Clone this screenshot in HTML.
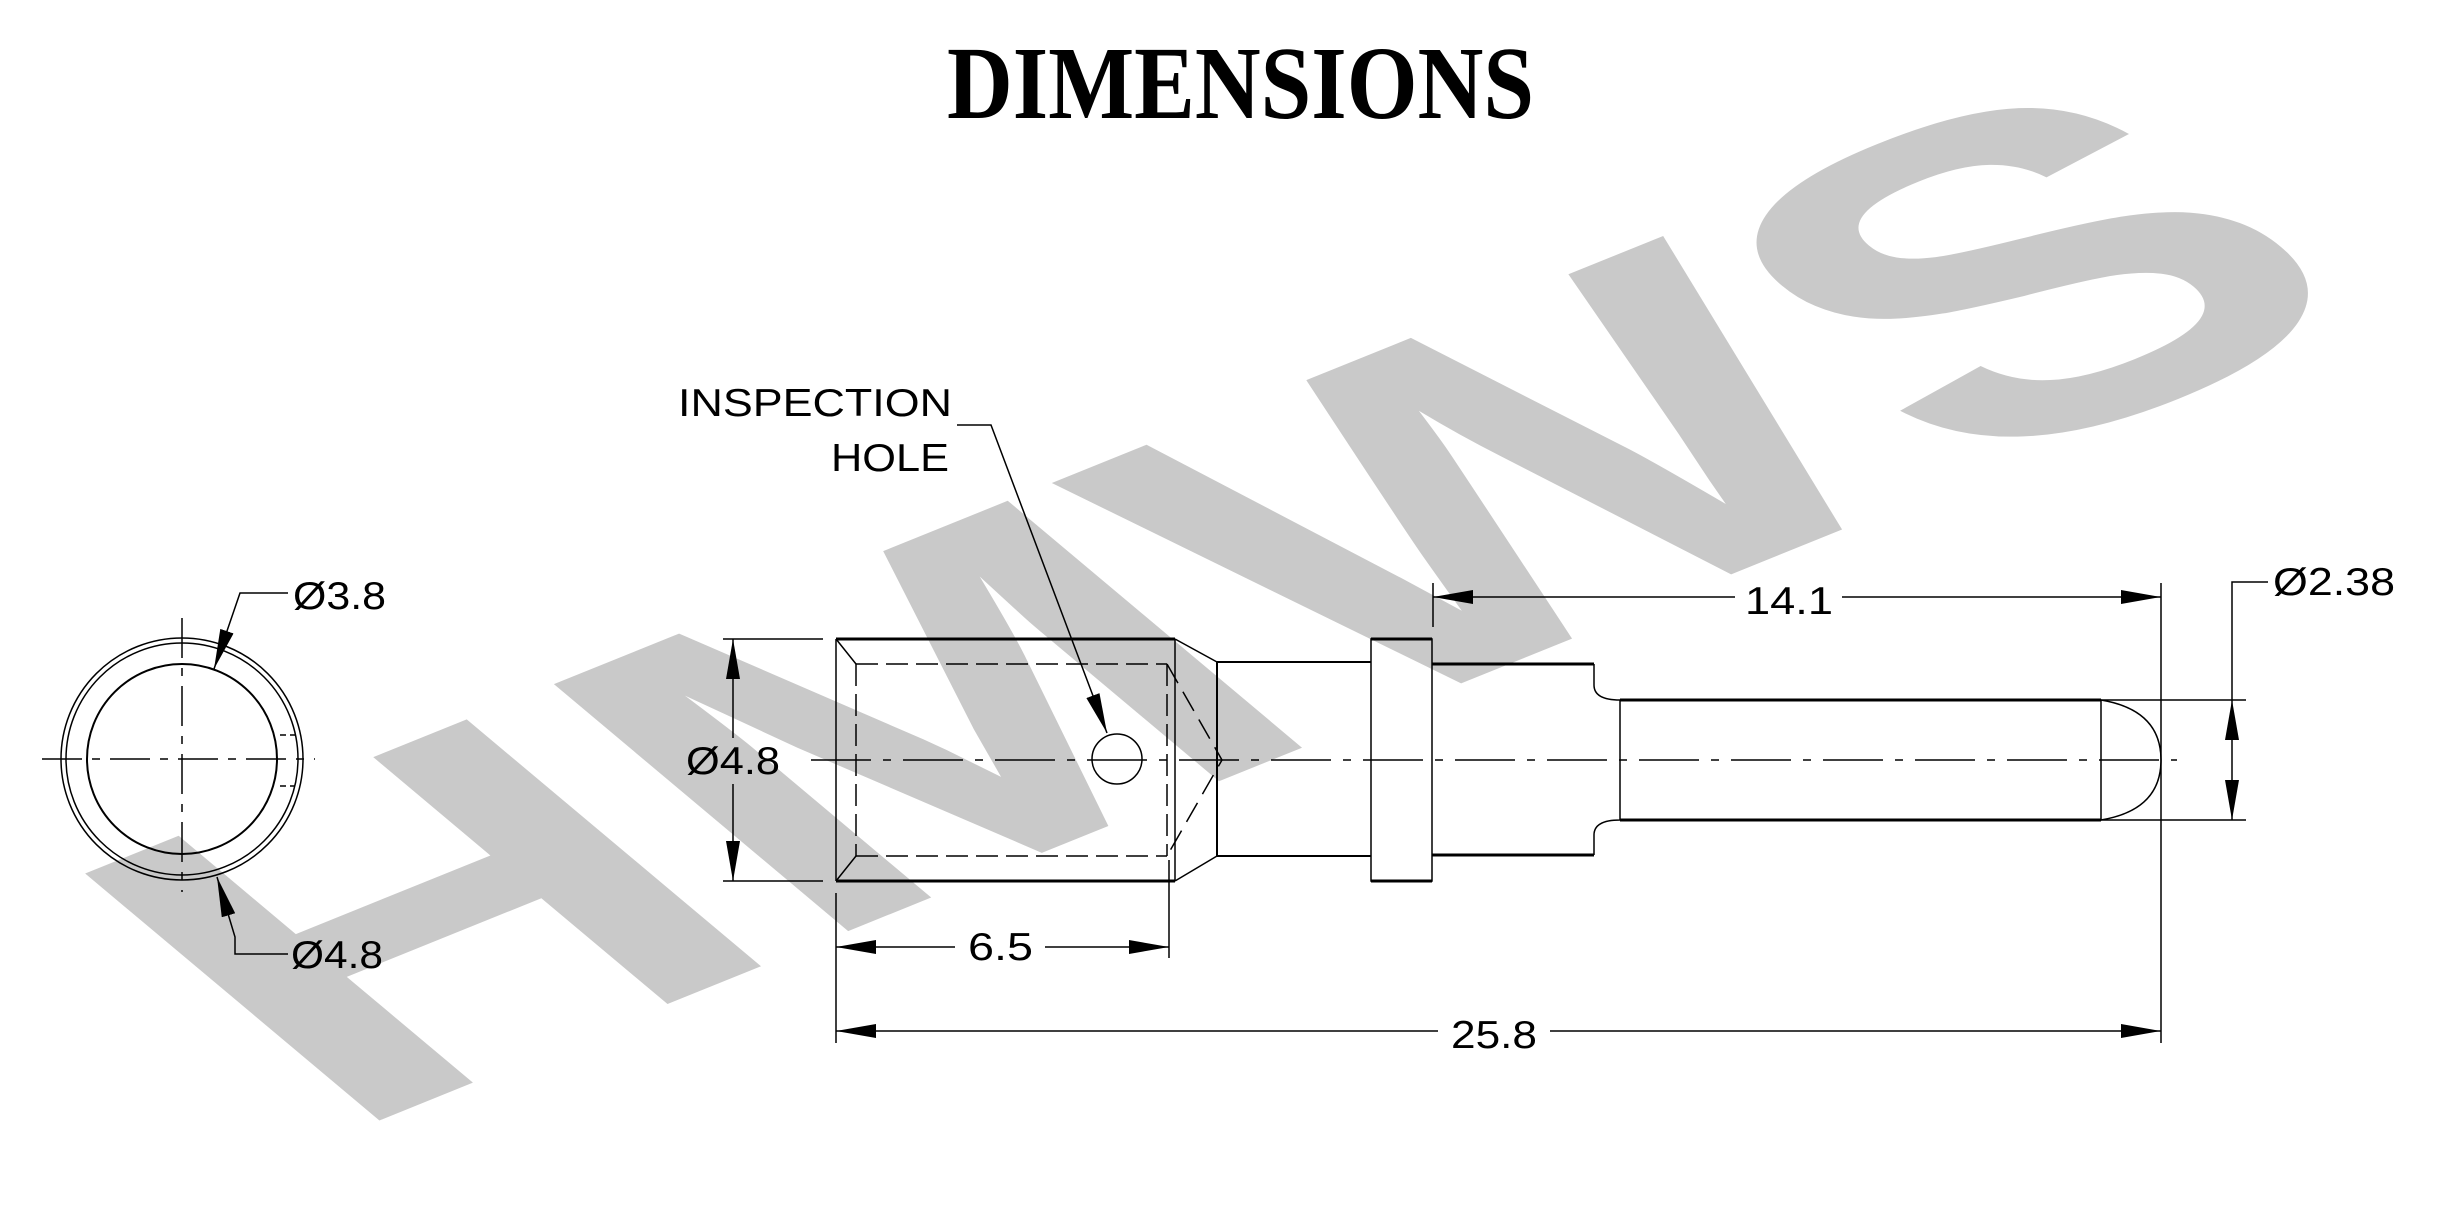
<!DOCTYPE html>
<html><head><meta charset="utf-8"><style>
html,body{margin:0;padding:0;background:#fff;}
svg{display:block;}
</style></head><body>
<svg width="2447" height="1209" viewBox="0 0 2447 1209" xmlns="http://www.w3.org/2000/svg">
<rect width="2447" height="1209" fill="#fff"/>
<!-- watermark -->
<g transform="translate(336,1138) rotate(-22) skewX(28) scale(1.42,1)">
<text x="0" y="0" font-family="Liberation Sans, sans-serif" font-weight="bold" font-size="493" fill="#c9c9c9">HMWS</text>
</g>
<!-- title -->
<text x="947" y="118" textLength="587" lengthAdjust="spacingAndGlyphs" font-family="Liberation Serif, serif" font-weight="bold" font-size="104" fill="#000">DIMENSIONS</text>

<defs>
<marker id="a" viewBox="0 0 40 14" refX="40" refY="7" markerWidth="40" markerHeight="14" markerUnits="userSpaceOnUse" orient="auto-start-reverse">
<path d="M0,0 L40,7 L0,14 Z" fill="#000"/></marker>
</defs>

<g stroke="#000" fill="none" stroke-width="1.5" font-family="Liberation Sans, sans-serif">
<!-- end view -->
<circle cx="182" cy="759" r="121"/>
<circle cx="182" cy="759" r="116"/>
<circle cx="182" cy="759" r="95" stroke-width="2"/>
<path d="M42,759 H315" stroke-dasharray="40,10,8,10"/>
<path d="M182,618 V892" stroke-dasharray="40,10,8,10"/>
<path d="M280,735 H295 M280,786 H295" stroke-dasharray="6,4"/>
<path d="M288,593 H240 L214,669" marker-end="url(#a)"/>
<path d="M288,954 H235 V937 L217,877" marker-end="url(#a)"/>

<!-- tube -->
<path d="M836,639 H1175 M836,881 H1175" stroke-width="3"/>
<path d="M836,639 V881 M1175,639 V881"/>
<path d="M856,664 H1167 M856,856 H1167 M856,664 V856 M1167,664 V856" stroke-dasharray="22,8"/>
<path d="M836,639 L856,664 M836,881 L856,856"/>
<path d="M1175,639 L1217,662 M1175,881 L1217,856"/>
<path d="M1167,664 L1222,760 L1167,856" stroke-dasharray="22,10"/>
<circle cx="1117" cy="759" r="25"/>
<!-- neck -->
<path d="M1217,662 H1371 M1217,856 H1371 M1217,662 V856" stroke-width="2"/>
<!-- flange -->
<rect x="1371" y="639" width="61" height="242"/>
<path d="M1371,639 H1432 M1371,881 H1432" stroke-width="3"/>
<!-- body -->
<path d="M1432,664 H1594 M1432,855 H1594" stroke-width="3"/>
<path d="M1594,664 V685 Q1594,700 1620,700 M1594,855 V835 Q1594,820 1620,820 M1620,700 V820"/>
<!-- pin -->
<path d="M1620,700 H2101 M1620,820 H2101" stroke-width="3"/>
<path d="M2101,700 V820 M2101,700 Q2161,710 2161,760 Q2161,810 2101,820"/>
<!-- centerline -->
<path d="M811,760 H2177" stroke-dasharray="60,12,8,12"/>

<!-- dims -->
<path d="M723,639 H823 M723,881 H823"/>
<path d="M733,738 V639" marker-end="url(#a)"/>
<path d="M733,784 V881" marker-end="url(#a)"/>
<path d="M836,893 V1043 M1169,860 V958 M1433,583 V627 M2161,583 V1043"/>
<path d="M955,947 H836" marker-end="url(#a)"/>
<path d="M1045,947 H1169" marker-end="url(#a)"/>
<path d="M1438,1031 H836" marker-end="url(#a)"/>
<path d="M1550,1031 H2161" marker-end="url(#a)"/>
<path d="M1735,597 H1433" marker-end="url(#a)"/>
<path d="M1842,597 H2161" marker-end="url(#a)"/>
<path d="M2101,700 H2246 M2101,820 H2246"/>
<path d="M2232,760 V700" marker-end="url(#a)"/>
<path d="M2232,760 V820" marker-end="url(#a)"/>
<path d="M2232,700 V582 H2268"/>
<!-- inspection leader -->
<path d="M957,425 H991 L1107,733" marker-end="url(#a)"/>
</g>

<g font-family="Liberation Sans, sans-serif" font-size="39" fill="#000">
<text x="678" y="416" textLength="274" lengthAdjust="spacingAndGlyphs">INSPECTION</text>
<text x="831" y="471" textLength="118" lengthAdjust="spacingAndGlyphs">HOLE</text>
<text x="293" y="609" textLength="93" lengthAdjust="spacingAndGlyphs">Ø3.8</text>
<text x="291" y="968" textLength="92" lengthAdjust="spacingAndGlyphs">Ø4.8</text>
<text x="686" y="774" textLength="94" lengthAdjust="spacingAndGlyphs">Ø4.8</text>
<text x="968" y="960" textLength="65" lengthAdjust="spacingAndGlyphs">6.5</text>
<text x="1451" y="1048" textLength="86" lengthAdjust="spacingAndGlyphs">25.8</text>
<text x="1745" y="614" textLength="88" lengthAdjust="spacingAndGlyphs">14.1</text>
<text x="2273" y="595" textLength="122" lengthAdjust="spacingAndGlyphs">Ø2.38</text>
</g>
</svg>
</body></html>
